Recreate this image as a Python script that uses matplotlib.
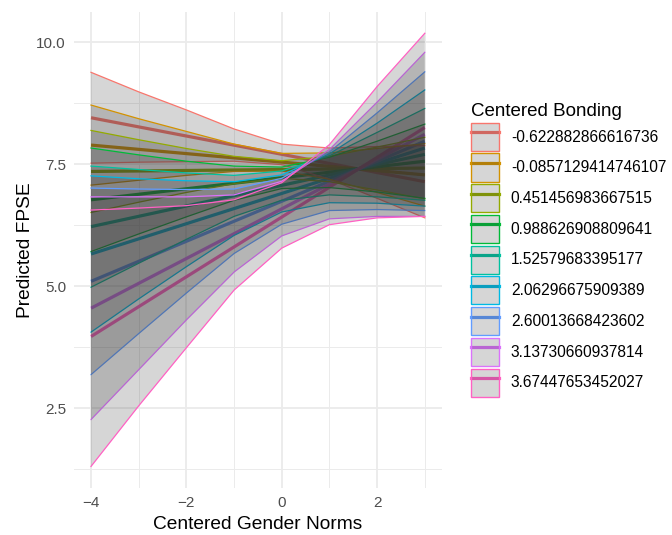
import matplotlib
matplotlib.use("Agg")
import matplotlib.pyplot as plt
from matplotlib.patches import Patch
from matplotlib.lines import Line2D

plt.rcParams['font.family'] = ['Liberation Sans', 'DejaVu Sans']

# ---- data ----
gender_norms = [-4, -3, -2, -1, 0, 1, 2, 3]
bonding_labels = ["-0.622882866616736", "-0.0857129414746107", "0.451456983667515",
                  "0.988626908809641", "1.52579683395177", "2.06296675909389",
                  "2.60013668423602", "3.13730660937814", "3.67447653452027"]
colors = ["#F8766D", "#D39200", "#93AA00", "#00BA38", "#00C19F",
          "#00B9E3", "#619CFF", "#DB72FB", "#FF61C3"]

# predicted FPSE (fitted line) at x = -4 and x = 3
mean_at_min = [8.45, 7.89, 7.35, 6.77, 6.22, 5.66, 5.10, 4.55, 3.97]
mean_at_max = [7.14, 7.28, 7.42, 7.56, 7.70, 7.83, 7.97, 8.11, 8.25]

# confidence band bounds at each gender_norms value
upper_bonding_1 = [9.38, 8.98, 8.61, 8.22, 7.91, 7.83, 7.86, 7.88]
lower_bonding_1 = [7.52, 7.54, 7.55, 7.56, 7.49, 7.19, 6.80, 6.40]
upper_bonding_2 = [8.71, 8.43, 8.17, 7.91, 7.72, 7.73, 7.82, 7.92]
lower_bonding_2 = [7.07, 7.17, 7.27, 7.35, 7.36, 7.19, 6.92, 6.64]
upper_bonding_3 = [8.19, 8.00, 7.82, 7.66, 7.57, 7.66, 7.85, 8.05]
lower_bonding_3 = [6.51, 6.72, 6.92, 7.10, 7.21, 7.14, 6.97, 6.79]
upper_bonding_4 = [7.83, 7.69, 7.56, 7.46, 7.44, 7.64, 7.97, 8.32]
lower_bonding_4 = [5.71, 6.07, 6.42, 6.76, 7.00, 7.02, 6.93, 6.80]
upper_bonding_5 = [7.46, 7.39, 7.32, 7.27, 7.36, 7.67, 8.15, 8.64]
lower_bonding_5 = [4.98, 5.47, 5.96, 6.43, 6.76, 6.87, 6.83, 6.76]
upper_bonding_6 = [7.26, 7.20, 7.16, 7.14, 7.28, 7.71, 8.34, 9.02]
lower_bonding_6 = [4.06, 4.74, 5.40, 6.04, 6.52, 6.71, 6.70, 6.64]
upper_bonding_7 = [7.01, 6.99, 6.98, 6.99, 7.21, 7.75, 8.55, 9.39]
lower_bonding_7 = [3.19, 4.03, 4.86, 5.67, 6.27, 6.55, 6.57, 6.55]
upper_bonding_8 = [6.83, 6.83, 6.83, 6.87, 7.15, 7.80, 8.77, 9.79]
lower_bonding_8 = [2.27, 3.29, 4.31, 5.29, 6.03, 6.38, 6.43, 6.43]
upper_bonding_9 = [6.56, 6.60, 6.65, 6.77, 7.12, 7.90, 9.09, 10.18]
lower_bonding_9 = [1.31, 2.55, 3.74, 4.92, 5.78, 6.26, 6.40, 6.43]

uppers = [upper_bonding_1, upper_bonding_2, upper_bonding_3, upper_bonding_4, upper_bonding_5,
          upper_bonding_6, upper_bonding_7, upper_bonding_8, upper_bonding_9]
lowers = [lower_bonding_1, lower_bonding_2, lower_bonding_3, lower_bonding_4, lower_bonding_5,
          lower_bonding_6, lower_bonding_7, lower_bonding_8, lower_bonding_9]

# ---- figure ----
fig = plt.figure(figsize=(6.72, 5.35), dpi=100)
ax = fig.add_axes([0.1106, 0.088, 0.5464, 0.890])

ribbon_fill = (0.2, 0.2, 0.2, 0.2)
x_min, x_max = gender_norms[0], gender_norms[-1]

for i, c in enumerate(colors):
    ax.plot([x_min, x_max], [mean_at_min[i], mean_at_max[i]], color=c, lw=2.3,
            solid_capstyle='butt', zorder=2)

for i, c in enumerate(colors):
    ax.fill_between(gender_norms, lowers[i], uppers[i], facecolor=ribbon_fill,
                    edgecolor='none', linewidth=0, zorder=3 + 2 * i)
    ax.plot(gender_norms, uppers[i], color=c, lw=0.9, zorder=4 + 2 * i)
    ax.plot(gender_norms, lowers[i], color=c, lw=0.9, zorder=4 + 2 * i)

ax.set_xlim(-4.35, 3.35)
ax.set_ylim(0.87, 10.62)
ax.set_xticks([-4, -2, 0, 2])
ax.set_xticks([-3, -1, 1, 3], minor=True)
ax.set_yticks([2.5, 5.0, 7.5, 10.0])
ax.set_yticklabels(["2.5", "5.0", "7.5", "10.0"])
ax.set_yticks([1.25, 3.75, 6.25, 8.75], minor=True)
ax.grid(which='major', color='#ebebeb', lw=1.3, zorder=0)
ax.grid(which='minor', color='#ebebeb', lw=0.7, zorder=0)
ax.set_axisbelow(True)
for s in ax.spines.values():
    s.set_visible(False)
ax.tick_params(which='both', length=0)
ax.tick_params(axis='x', labelsize=11, labelcolor='#4d4d4d', pad=6)
ax.tick_params(axis='y', labelsize=11, labelcolor='#4d4d4d', pad=6)
ax.set_xlabel("Centered Gender Norms", fontsize=13.75, color='black', labelpad=4)
ax.set_ylabel("Predicted FPSE", fontsize=13.75, color='black', labelpad=2)

handles = []
for c in colors:
    ln = Line2D([], [], color=c, lw=2.3)
    pt = Patch(facecolor=ribbon_fill, edgecolor=c, linewidth=1.0)
    handles.append((ln, pt))

leg = fig.legend(handles, bonding_labels, title="Centered Bonding",
                 loc='upper left', bbox_to_anchor=(468 / 672, 1 - 100 / 535),
                 bbox_transform=fig.transFigure,
                 fontsize=11.2, title_fontsize=13.5, frameon=False,
                 handlelength=1.8, handleheight=2.4, handletextpad=0.75,
                 labelspacing=0.17, alignment='left', borderaxespad=0,
                 borderpad=0.2)

fig.savefig("out.png", dpi=100)
